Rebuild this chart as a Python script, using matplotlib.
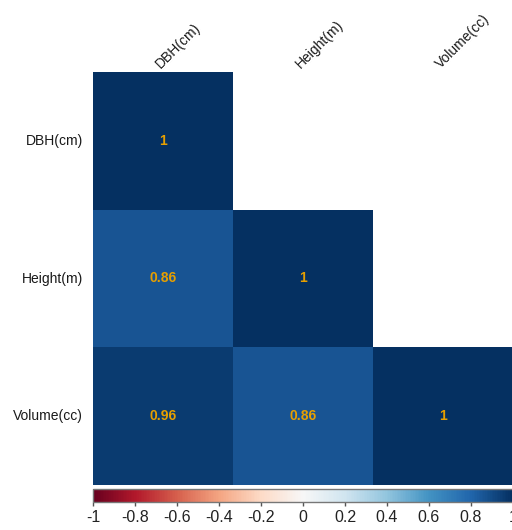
import matplotlib
matplotlib.use("Agg")
import matplotlib.pyplot as plt
import numpy as np

plt.rcParams["font.family"] = ["Liberation Sans", "DejaVu Sans"]

variables = ["DBH(cm)", "Height(m)", "Volume(cc)"]
# lower triangle of the correlation matrix, row by row
corr_rows = [
    [1.00],
    [0.86, 1.00],
    [0.96, 0.86, 1.00],
]
cbar_ticks = [-1, -0.8, -0.6, -0.4, -0.2, 0, 0.2, 0.4, 0.6, 0.8, 1]

n = len(variables)
corr = np.full((n, n), np.nan)
for i, row in enumerate(corr_rows):
    corr[i, : len(row)] = row
masked = np.ma.masked_invalid(corr)

fig = plt.figure(figsize=(5.12, 5.30), dpi=100)
ax = fig.add_axes([93 / 512, 1 - 485 / 530, 420 / 512, 413 / 530])
cmap = plt.get_cmap("RdBu")
mesh = ax.pcolormesh(masked, cmap=cmap, vmin=-1, vmax=1)
ax.set_xlim(0, n)
ax.set_ylim(n, 0)
for s in ax.spines.values():
    s.set_visible(False)
ax.set_xticks([])
ax.set_yticks([])

for i in range(n):
    for j in range(n):
        if np.isnan(corr[i, j]):
            continue
        label = f"{corr[i, j]:g}"
        ax.text(j + 0.5, i + 0.5, label, ha="center", va="center",
                color="#e69f00", fontsize=10, fontweight="bold")
    ax.text(-0.07, i + 0.5, variables[i], ha="right", va="center",
            fontsize=10, color="#1a1a1a")
    ax.text(i + 0.5, -0.005, variables[i], ha="left", va="bottom",
            rotation=45, rotation_mode="anchor", fontsize=10, color="#1a1a1a")

cax = fig.add_axes([93 / 512, 1 - 502 / 530, 420 / 512, 13 / 530])
cb = fig.colorbar(mesh, cax=cax, orientation="horizontal", ticks=cbar_ticks)
cb.ax.set_xticklabels([f"{t:g}" for t in cbar_ticks], fontsize=11.5, color="#222222")
cb.ax.tick_params(length=3, width=1, color="#555555", pad=3)
cb.outline.set_edgecolor("#777777")
cb.outline.set_linewidth(1)

fig.savefig("out.png", dpi=100)
